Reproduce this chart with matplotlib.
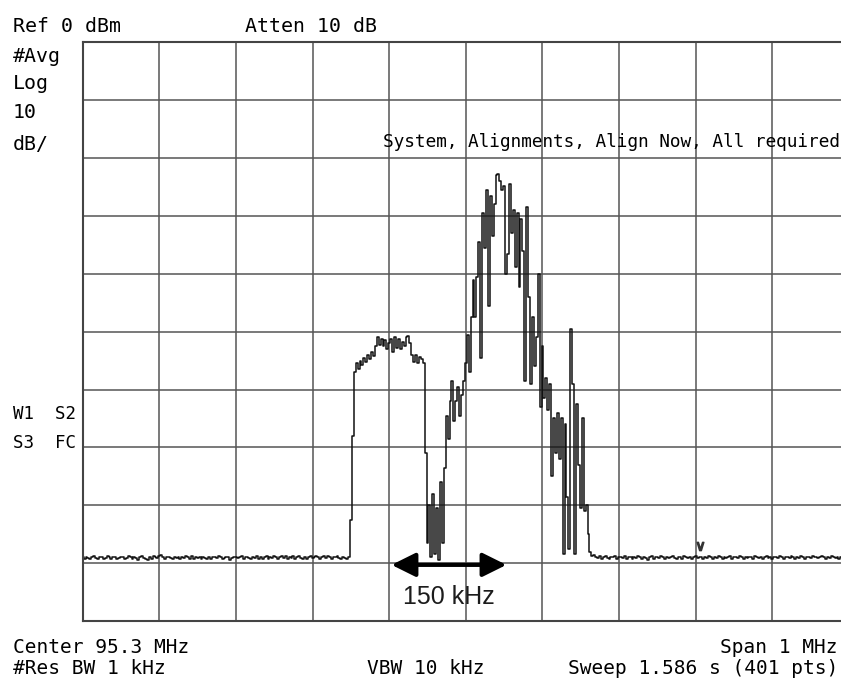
import numpy as np
import matplotlib
matplotlib.use("Agg")
import matplotlib.pyplot as plt
from matplotlib.ticker import MultipleLocator

# analyzer settings
center_mhz = 95.3
span_mhz = 1.0
ref_dbm = 0.0
db_per_div = 10
n_points = 401

# trace, 2.5 kHz per point: noise floor left of the signal
noise_left = [
    -89.0, -89.2, -88.9, -89.1, -89.3, -89.0, -88.8, -89.1, -89.2, -88.9, -89.0, -89.3, -89.1, -88.8, -89.0, -89.2, -89.0, -88.9, -89.2, -89.1,
    -88.9, -89.0, -89.3, -89.1, -88.8, -89.0, -89.2, -88.9, -89.1, -89.4, -89.0, -88.8, -89.1, -89.3, -89.5, -89.0, -89.2, -88.7, -89.0, -89.1,
    -88.8, -88.6, -89.0, -89.2, -89.0, -88.9, -89.1, -89.3, -89.0, -89.1, -88.9, -89.2, -89.0, -89.1, -88.8, -89.0, -89.3, -88.8, -89.2, -88.9,
    -89.1, -89.0, -89.2, -88.9, -89.1, -89.3, -89.0, -89.2, -88.9, -89.0, -89.1, -88.8, -89.0, -89.2, -89.1, -88.9, -89.0, -89.4, -89.1, -89.0,
    -88.9, -89.1, -89.0, -88.8, -89.2, -89.0, -88.9, -89.1, -89.3, -89.0, -89.1, -88.8, -89.2, -88.9, -89.3, -89.0, -88.8, -89.2, -88.9, -89.1,
    -88.8, -89.0, -89.2, -88.9, -88.7, -89.1, -88.8, -89.2, -88.9, -89.1, -88.8, -89.2, -89.0, -88.8, -89.1, -89.3, -88.9, -89.2, -89.0, -88.8,
    -89.1, -88.9, -88.7, -89.0, -89.2, -88.9, -88.8, -89.1, -88.7, -89.0, -89.2, -88.9, -89.0, -88.8, -89.1, -89.2, -89.0, -89.1, -89.2, -89.0,
]

# digital sidebands and the analog FM carrier
signal = [
    -82.5, -68.0, -57.0, -55.5, -56.5, -55.0, -55.8, -54.5, -55.2, -54.0,
    -54.8, -53.5, -54.2, -52.5, -51.0, -52.3, -51.2, -52.5, -51.5, -53.0,
    -52.0, -51.3, -53.5, -51.0, -52.8, -51.2, -53.0, -51.8, -52.5, -51.0,
    -50.8, -52.0, -54.0, -55.3, -54.0, -55.5, -54.3, -54.8, -55.5, -71.0,
    -86.5, -80.0, -89.0, -78.0, -88.5, -80.5, -89.5, -76.0, -86.5, -73.5,
    -64.5, -68.5, -62.0, -58.5, -65.5, -62.0, -59.5, -64.5, -61.0, -58.5,
    -55.5, -50.5, -57.0, -47.5, -41.0, -47.5, -40.5, -34.5, -54.5, -29.5,
    -35.5, -25.5, -45.5, -26.5, -33.5, -28.0, -23.0, -22.7, -24.0, -25.5,
    -24.8, -40.0, -36.5, -24.5, -33.0, -29.0, -38.8, -29.5, -42.3, -30.5,
    -36.0, -58.5, -28.5, -44.0, -59.0, -47.5, -56.0, -51.0, -40.0, -63.0,
    -52.5, -61.5, -58.0, -63.5, -59.0, -75.0, -65.0, -71.0, -64.0, -72.0,
    -65.0, -88.5, -66.0, -78.5, -87.5, -49.5, -59.0, -88.5, -62.5, -73.0,
    -80.5, -65.0, -81.0, -80.0, -85.0, -88.0, -88.8,
]

# noise floor right of the signal
noise_right = [
    -88.6, -88.9, -89.1, -88.8, -89.2, -89.0, -88.7, -89.1, -89.3, -88.9, -89.0, -88.8, -89.2, -89.0, -88.9, -89.1, -88.8, -89.2, -88.9, -89.0,
    -89.3, -88.9, -89.1, -88.8, -89.0, -89.2, -88.9, -89.1, -89.4, -89.0, -88.8, -89.2, -89.0, -88.9, -89.1, -88.7, -89.0, -89.2, -88.9, -89.1,
    -89.0, -88.8, -89.1, -89.3, -88.9, -89.0, -89.2, -88.8, -89.0, -89.1, -88.9, -89.2, -89.0, -88.8, -89.1, -89.0, -88.9, -89.2, -89.0, -89.1,
    -88.8, -89.0, -89.2, -88.9, -89.1, -88.8, -89.0, -89.3, -88.9, -89.1, -89.0, -88.8, -89.2, -88.9, -89.0, -89.1, -88.8, -89.0, -89.2, -88.9,
    -89.1, -88.9, -89.0, -89.2, -88.8, -89.0, -89.1, -88.9, -89.2, -89.0, -88.8, -89.1, -88.9, -89.2, -89.0, -88.9, -89.1, -88.8, -89.0, -89.2,
    -88.9, -89.0, -89.1, -88.8, -89.0, -89.2, -88.9, -89.1, -88.8, -89.0, -89.2, -88.9, -89.0, -89.1, -88.8, -89.0, -88.9, -89.1, -89.0, -88.8,
    -89.0, -89.2, -88.9, -89.1, -88.8, -89.0, -89.1, -88.9, -89.2, -89.0, -88.8, -89.1, -89.0, -88.9,
]

# marker glyph and the bandwidth annotation
marker_mhz = 95.606
marker_dbm = -87.0
bw_start_mhz = 95.203
bw_khz = 150

level = np.array(noise_left + signal + noise_right)
freq = np.linspace(center_mhz - span_mhz / 2, center_mhz + span_mhz / 2, n_points)

W, H = 841, 679
fig = plt.figure(figsize=(W / 100, H / 100), dpi=100)
fig.patch.set_facecolor("white")

# the graticule runs slightly past the right edge of the screen grab
gl, gr, gt, gb = 82.7, 849.0, 42.3, 621.0
ax = fig.add_axes([gl / W, (H - gb) / H, (gr - gl) / W, (gb - gt) / H])
ax.set_xlim(freq[0], freq[-1])
ax.set_ylim(ref_dbm - 10 * db_per_div, ref_dbm)
ax.xaxis.set_major_locator(MultipleLocator(span_mhz / 10))
ax.yaxis.set_major_locator(MultipleLocator(db_per_div))
ax.tick_params(length=0, labelbottom=False, labelleft=False)
ax.grid(True, color="#555555", lw=1.1)
for s in ax.spines.values():
    s.set_color("#444444")
    s.set_linewidth(1.5)

# stepped trace like the analyzer's bucket display
ax.plot(freq, level, color="#111111", lw=1.1, drawstyle="steps-mid")
ax.plot([marker_mhz], [marker_dbm], marker=r"$\vee$", color="#333333",
        markersize=6, linestyle="none")

# 150 kHz bandwidth arrow
bw_end = bw_start_mhz + bw_khz / 1000
ax.annotate("", xy=(bw_end, -90.3), xytext=(bw_start_mhz, -90.3),
            arrowprops=dict(arrowstyle="<|-|>,head_length=1.45,head_width=0.72",
                            color="black", lw=3, shrinkA=0, shrinkB=0))
ax.text((bw_start_mhz + bw_end) / 2, -95.9, f"{bw_khz} kHz", ha="center", va="center",
        fontsize=18, family="Liberation Sans", color="#1c1c1c")

mono = "DejaVu Sans Mono"


def label(x, y, s, ha="left", size=14.3):
    fig.text(x / W, 1 - y / H, s, ha=ha, va="baseline", fontsize=size,
             family=mono, color="black")


label(13, 32, "Ref 0 dBm")
label(245, 32, "Atten 10 dB")
label(13, 62, "#Avg")
label(13, 89, "Log")
label(13, 118, "10")
label(13, 150, "dB/")
label(383, 147, "System, Alignments, Align Now, All required", size=12.8)
label(13, 419, "W1  S2", size=12.6)
label(13, 448, "S3  FC", size=12.6)
label(13, 653, "Center 95.3 MHz", size=14)
label(838, 653, "Span 1 MHz", ha="right", size=14)
label(13, 674, "#Res BW 1 kHz", size=14)
label(367, 674, "VBW 10 kHz", size=14)
label(838, 674, "Sweep 1.586 s (401 pts)", ha="right", size=14)

fig.savefig("out.png", dpi=100)
